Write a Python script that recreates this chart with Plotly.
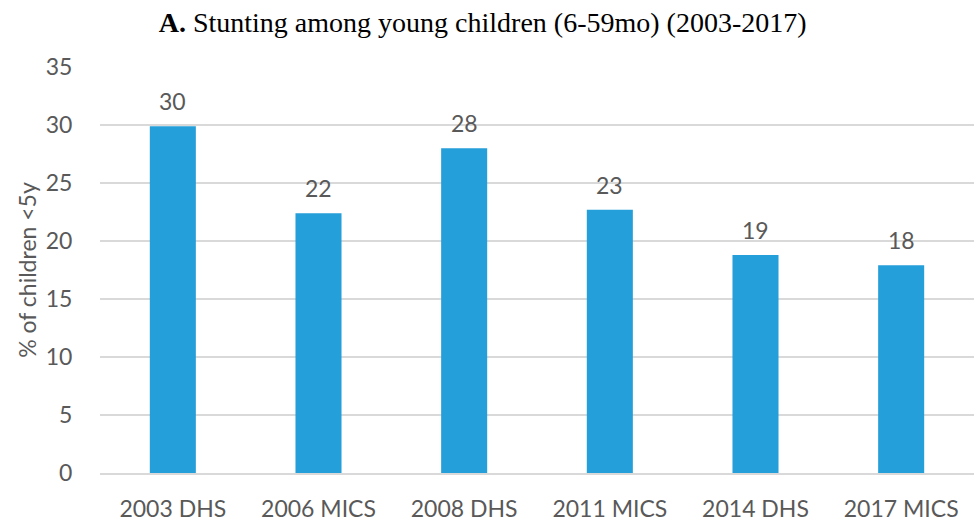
import plotly.graph_objects as go

# Survey rounds and stunting prevalence (% of children under 5)
surveys = ["2003 DHS", "2006 MICS", "2008 DHS", "2011 MICS", "2014 DHS", "2017 MICS"]
stunting = [29.9, 22.4, 28.0, 22.7, 18.8, 17.9]
y_ticks = [0, 5, 10, 15, 20, 25, 30, 35]

BAR_COLOR = "#259FD9"
TEXT_GRAY = "#595959"
GRID_GRAY = "#D9D9D9"
FONT = "Lato, 'Open Sans', sans-serif"

fig = go.Figure(
    go.Bar(
        x=surveys,
        y=stunting,
        marker=dict(color=BAR_COLOR, line=dict(width=0)),
        hoverinfo="x+y",
    )
)

# Rounded value labels sitting above each bar
for s, v in zip(surveys, stunting):
    fig.add_annotation(
        x=s, y=v, text=f"{v:.0f}",
        showarrow=False, yanchor="bottom", yshift=9,
        font=dict(family=FONT, size=23, color=TEXT_GRAY),
    )

fig.update_layout(
    width=977,
    height=523,
    margin=dict(l=100, r=3, t=67, b=50),
    paper_bgcolor="white",
    plot_bgcolor="white",
    bargap=0.684,
    showlegend=False,
    title=dict(
        text="<b>A.</b> Stunting among young children (6-59mo) (2003-2017)",
        x=0.494,
        xanchor="center",
        y=0.958,
        yanchor="middle",
        font=dict(family="'Liberation Serif', 'Times New Roman', serif", size=28, color="black"),
    ),
    xaxis=dict(
        automargin=False,
        showgrid=False,
        showline=True,
        linecolor=GRID_GRAY,
        linewidth=1.5,
        ticks="outside",
        ticklen=15,
        tickcolor="rgba(0,0,0,0)",
        tickfont=dict(family=FONT, size=23, color=TEXT_GRAY),
    ),
    yaxis=dict(
        automargin=False,
        range=[0, 35],
        tickvals=y_ticks,
        showgrid=True,
        gridcolor=GRID_GRAY,
        gridwidth=1.5,
        zeroline=False,
        showline=False,
        ticks="outside",
        ticklen=22,
        tickcolor="rgba(0,0,0,0)",
        tickfont=dict(family=FONT, size=23, color=TEXT_GRAY),
        title=dict(
            text="% of children <5y",
            font=dict(family=FONT, size=23, color=TEXT_GRAY),
            standoff=2,
        ),
    ),
)

fig.write_html("out.html")
